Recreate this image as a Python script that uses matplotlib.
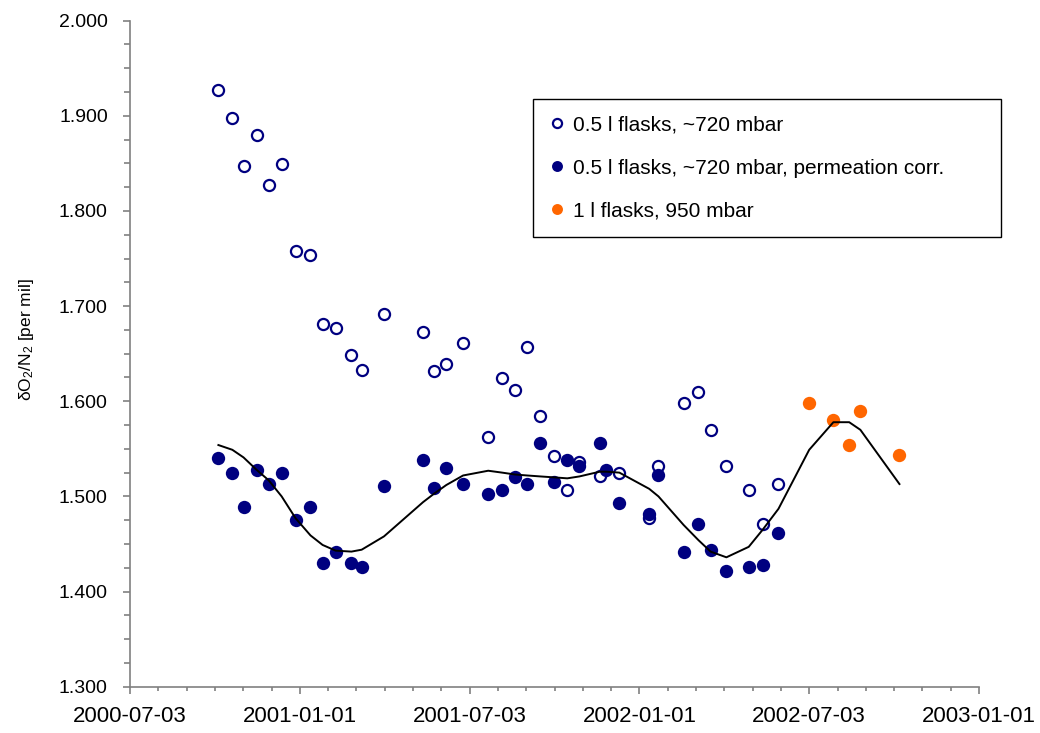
import numpy as np
import matplotlib
matplotlib.use("Agg")
import matplotlib.pyplot as plt
import matplotlib.dates as mdates
from matplotlib.ticker import FixedLocator, MultipleLocator, FormatStrFormatter

plt.rcParams['font.family'] = ['Liberation Sans', 'DejaVu Sans']
plt.rcParams['mathtext.fontset'] = 'custom'
plt.rcParams['mathtext.rm'] = 'Liberation Sans'
plt.rcParams['mathtext.it'] = 'Liberation Sans'

# ---------------- data ----------------
open_dates = ['2000-10-06', '2000-10-21', '2000-11-02', '2000-11-16', '2000-11-29',
              '2000-12-13', '2000-12-28', '2001-01-13', '2001-01-26', '2001-02-09',
              '2001-02-26', '2001-03-09', '2001-04-02', '2001-05-14', '2001-05-26',
              '2001-06-08', '2001-06-26', '2001-07-23', '2001-08-07', '2001-08-21',
              '2001-09-03', '2001-09-17', '2001-10-02', '2001-10-16', '2001-10-29',
              '2001-11-20', '2001-12-11', '2002-01-12', '2002-01-22', '2002-02-18',
              '2002-03-06', '2002-03-19', '2002-04-05', '2002-04-29', '2002-05-14',
              '2002-05-31']
open_vals = [1.927, 1.898, 1.847, 1.880, 1.827,
             1.849, 1.758, 1.754, 1.681, 1.677,
             1.649, 1.633, 1.692, 1.673, 1.632,
             1.639, 1.661, 1.562, 1.624, 1.612,
             1.657, 1.584, 1.542, 1.507, 1.536,
             1.521, 1.525, 1.477, 1.532, 1.598,
             1.610, 1.570, 1.532, 1.507, 1.471,
             1.513]

corr_dates = ['2000-10-06', '2000-10-21', '2000-11-02', '2000-11-16', '2000-11-29',
              '2000-12-13', '2000-12-28', '2001-01-13', '2001-01-26', '2001-02-09',
              '2001-02-26', '2001-03-09', '2001-04-02', '2001-05-14', '2001-05-26',
              '2001-06-08', '2001-06-26', '2001-07-23', '2001-08-07', '2001-08-21',
              '2001-09-03', '2001-09-17', '2001-10-02', '2001-10-16', '2001-10-29',
              '2001-11-20', '2001-11-27', '2001-12-11', '2002-01-12', '2002-01-22',
              '2002-02-18', '2002-03-06', '2002-03-19', '2002-04-05', '2002-04-29',
              '2002-05-14', '2002-05-31']
corr_vals = [1.540, 1.525, 1.489, 1.528, 1.513,
             1.525, 1.475, 1.489, 1.430, 1.442,
             1.430, 1.426, 1.511, 1.538, 1.509,
             1.530, 1.513, 1.503, 1.507, 1.520,
             1.513, 1.556, 1.515, 1.538, 1.532,
             1.556, 1.528, 1.493, 1.481, 1.523,
             1.442, 1.471, 1.444, 1.422, 1.426,
             1.428, 1.462]

big_dates = ['2002-07-03', '2002-07-29', '2002-08-15', '2002-08-27', '2002-10-08']
big_vals = [1.598, 1.580, 1.554, 1.590, 1.544]

fit_dates = ['2000-10-06', '2000-10-21', '2000-11-02', '2000-11-16', '2000-11-29',
             '2000-12-13', '2000-12-28', '2001-01-13', '2001-01-26', '2001-02-09',
             '2001-02-26', '2001-03-09', '2001-04-02', '2001-05-14', '2001-05-26',
             '2001-06-08', '2001-06-26', '2001-07-23', '2001-08-07', '2001-08-21',
             '2001-09-03', '2001-09-17', '2001-10-02', '2001-10-16', '2001-10-29',
             '2001-11-20', '2001-11-27', '2001-12-11', '2002-01-12', '2002-01-22',
             '2002-02-18', '2002-03-06', '2002-03-19', '2002-04-05', '2002-04-29',
             '2002-05-14', '2002-05-31', '2002-07-03', '2002-07-29', '2002-08-15',
             '2002-08-27', '2002-10-08']
fit_vals = [1.554, 1.549, 1.541, 1.528, 1.517,
            1.500, 1.477, 1.459, 1.449, 1.443,
            1.442, 1.444, 1.458, 1.494, 1.503,
            1.512, 1.522, 1.527, 1.525, 1.523,
            1.522, 1.521, 1.520, 1.519, 1.521,
            1.526, 1.526, 1.525, 1.508, 1.500,
            1.470, 1.454, 1.442, 1.436, 1.447,
            1.465, 1.487, 1.549, 1.578, 1.578,
            1.570, 1.513]

x_tick_labels = ['2000-07-03', '2001-01-01', '2001-07-03', '2002-01-01',
                 '2002-07-03', '2003-01-01']

legend_labels = ['0.5 l flasks, ~720 mbar',
                 '0.5 l flasks, ~720 mbar, permeation corr.',
                 '1 l flasks, 950 mbar']
y_label = 'δO$_2$/N$_2$ [per mil]'

# ---------------- plot ----------------
NAVY = '#000080'
ORANGE = '#FF6600'
GRAY = '#808080'

def to_num(ds):
    return mdates.date2num(np.array(ds, dtype='datetime64[D]'))

fig = plt.figure(figsize=(10.40, 7.33), dpi=100)
ax = fig.add_axes([130 / 1040, 1 - 686.7 / 733, 849 / 1040, 666 / 733])

h1, = ax.plot(to_num(open_dates), open_vals, linestyle='none', marker='o',
              markersize=8.0, markerfacecolor='none', markeredgecolor=NAVY,
              markeredgewidth=1.6, zorder=3, label=legend_labels[0])
h2, = ax.plot(to_num(corr_dates), corr_vals, linestyle='none', marker='o',
              markersize=9.6, markerfacecolor=NAVY, markeredgecolor=NAVY,
              markeredgewidth=0, zorder=4, label=legend_labels[1])
h3, = ax.plot(to_num(big_dates), big_vals, linestyle='none', marker='o',
              markersize=9.6, markerfacecolor=ORANGE, markeredgecolor=ORANGE,
              markeredgewidth=0, zorder=4, label=legend_labels[2])
ax.plot(to_num(fit_dates), fit_vals, color='black', linewidth=1.4, zorder=5)

start = to_num([x_tick_labels[0]])[0]
major = start + 182.5 * np.arange(len(x_tick_labels))
minor = start + (182.5 / 6) * np.arange(6 * (len(x_tick_labels) - 1) + 1)
ax.set_xlim(major[0], major[-1])
ax.xaxis.set_major_locator(FixedLocator(major))
ax.xaxis.set_minor_locator(FixedLocator(minor))
ax.set_xticklabels(x_tick_labels)

ax.set_ylim(1.3, 2.0)
ax.yaxis.set_major_locator(MultipleLocator(0.1))
ax.yaxis.set_minor_locator(MultipleLocator(0.025))
ax.yaxis.set_major_formatter(FormatStrFormatter('%.3f'))

for s in ['top', 'right']:
    ax.spines[s].set_visible(False)
for s in ['left', 'bottom']:
    ax.spines[s].set_color(GRAY)
    ax.spines[s].set_linewidth(1.2)

ax.tick_params(axis='y', which='major', direction='out', length=5, width=1.2,
               color=GRAY, labelsize=14, pad=11, labelcolor='black')
ax.tick_params(axis='y', which='minor', direction='out', length=4.5, width=1.2,
               color=GRAY)
ax.tick_params(axis='x', which='major', direction='out', length=5, width=1.2,
               color=GRAY, labelsize=16, pad=9, labelcolor='black')
ax.tick_params(axis='x', which='minor', direction='out', length=3, width=1.2,
               color=GRAY)

fig.text(26 / 1040, 1 - 340 / 733, y_label, rotation=90, ha='center',
         va='center', fontsize=12.5)

leg = fig.legend(handles=[h1, h2, h3], labels=legend_labels,
                 loc='upper left',
                 bbox_to_anchor=(533 / 1040, 1 - 99 / 733, 468 / 1040, 0.0),
                 mode='expand', fontsize=15, frameon=True, fancybox=False,
                 edgecolor='black', framealpha=1, borderpad=0.8,
                 labelspacing=1.15, handlelength=0.75, handletextpad=0.35,
                 markerscale=0.82, borderaxespad=0)
leg.get_frame().set_linewidth(1.0)

fig.savefig('out.png', dpi=100, facecolor='white')
